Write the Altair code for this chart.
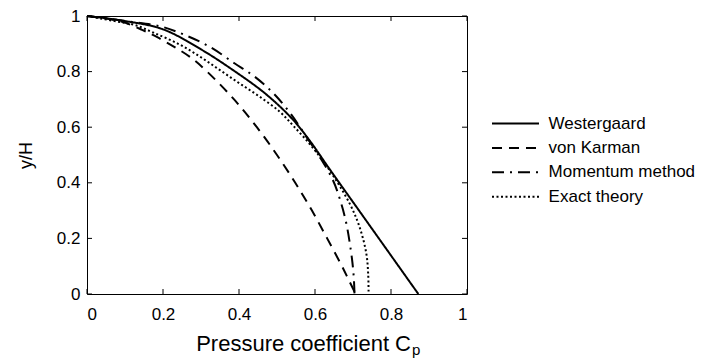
import altair as alt
import pandas as pd

series_names = ["Westergaard", "von Karman", "Momentum method", "Exact theory"]
dash_styles = [[1, 0], [10, 7], [12, 6, 2, 6], [2, 2.5]]

tick_values = [0, 0.2, 0.4, 0.6, 0.8, 1]

west_y = [1.0, 0.982, 0.952, 0.88, 0.80, 0.72, 0.63, 0.55, 0.45, 0.30, 0.15, 0.0]
west_cp = [0.0, 0.10, 0.20, 0.30, 0.39, 0.47, 0.54, 0.587, 0.638, 0.716, 0.794, 0.872]

karman_y = [1.0, 0.98, 0.95, 0.92, 0.85, 0.80, 0.70, 0.60, 0.50, 0.40, 0.30, 0.20, 0.10, 0.05, 0.0]
karman_cp = [0.0, 0.09, 0.145, 0.19, 0.274, 0.316, 0.387, 0.447, 0.50, 0.548, 0.592, 0.632, 0.671, 0.689, 0.707]

mom_y = [1.0, 0.98, 0.962, 0.932, 0.89, 0.83, 0.782, 0.72, 0.65, 0.566, 0.494, 0.41, 0.33, 0.25, 0.13, 0.06, 0.0]
mom_cp = [0.0, 0.11, 0.195, 0.257, 0.322, 0.388, 0.441, 0.492, 0.535, 0.577, 0.612, 0.647, 0.668, 0.683, 0.697, 0.702, 0.704]

exact_y = [1.0, 0.98, 0.968, 0.94, 0.90, 0.855, 0.806, 0.758, 0.71, 0.656, 0.602, 0.53, 0.446, 0.326, 0.242, 0.146, 0.07, 0.0]
exact_cp = [0.0, 0.08, 0.125, 0.175, 0.24, 0.296, 0.349, 0.401, 0.454, 0.507, 0.545, 0.592, 0.638, 0.691, 0.717, 0.735, 0.740, 0.741]

rows = []
for name, ys_, cps_ in [
    (series_names[0], west_y, west_cp),
    (series_names[1], karman_y, karman_cp),
    (series_names[2], mom_y, mom_cp),
    (series_names[3], exact_y, exact_cp),
]:
    for i, (yv, cv) in enumerate(zip(ys_, cps_)):
        rows.append({"series": name, "y": yv, "cp": cv, "i": i})
df = pd.DataFrame(rows)
tick_df = pd.DataFrame({"v": tick_values})

W, H = 380, 278
FONT = "Liberation Sans"
xscale = alt.Scale(domain=[0, 1], nice=False, zero=False)
yscale = alt.Scale(domain=[0, 1], nice=False, zero=False)

x_axis = alt.Axis(values=tick_values, format="~g", title=None, ticks=False,
                  domain=False, grid=False, labelPadding=12, labelFontSize=17)
y_axis = alt.Axis(values=tick_values, format="~g", title="y/H", ticks=False,
                  domain=False, grid=False, labelPadding=7, labelFontSize=17,
                  titleX=-61, titleY=139, titleFontSize=18,
                  titleFontWeight="normal", titleAlign="center",
                  titleBaseline="middle")

# legend symbol: a horizontal stroke 4x the nominal symbol width
sym_nominal = 11.75
lines = alt.Chart(df).mark_line(
    color="black", strokeWidth=2, interpolate="catmull-rom", strokeCap="butt"
).encode(
    x=alt.X("cp:Q", scale=xscale, axis=x_axis),
    y=alt.Y("y:Q", scale=yscale, axis=y_axis),
    strokeDash=alt.StrokeDash(
        "series:N", sort=series_names,
        scale=alt.Scale(domain=series_names, range=dash_styles),
        legend=alt.Legend(title=None, orient="none", legendX=420, legendY=99,
                          symbolType="M-4,0L4,0", symbolSize=sym_nominal ** 2,
                          symbolStrokeWidth=2, symbolStrokeColor="black",
                          labelFontSize=17, labelOffset=24.6,
                          labelFont=FONT, labelColor="black", padding=0, rowPadding=6.4)),
    order="i:Q",
)

tick_len = 5
bottom_ticks = alt.Chart(tick_df).mark_rule(color="black", strokeWidth=1).encode(
    x=alt.X("v:Q", scale=xscale, axis=x_axis),
    y=alt.value(H), y2=alt.value(H - tick_len))
top_ticks = alt.Chart(tick_df).mark_rule(color="black", strokeWidth=1).encode(
    x=alt.X("v:Q", scale=xscale, axis=x_axis),
    y=alt.value(0), y2=alt.value(tick_len))
left_ticks = alt.Chart(tick_df).mark_rule(color="black", strokeWidth=1).encode(
    y=alt.Y("v:Q", scale=yscale, axis=y_axis),
    x=alt.value(0), x2=alt.value(tick_len))
right_ticks = alt.Chart(tick_df).mark_rule(color="black", strokeWidth=1).encode(
    y=alt.Y("v:Q", scale=yscale, axis=y_axis),
    x=alt.value(W), x2=alt.value(W - tick_len))

title_main = alt.Chart(alt.Data(values=[{}])).mark_text(
    text="Pressure coefficient C", font=FONT, fontSize=22, color="black",
    align="right", baseline="alphabetic").encode(
    x=alt.value(324), y=alt.value(335))
title_sub = alt.Chart(alt.Data(values=[{}])).mark_text(
    text="p", font=FONT, fontSize=15, color="black",
    align="left", baseline="alphabetic").encode(
    x=alt.value(325), y=alt.value(339))

chart = alt.layer(
    lines, bottom_ticks, top_ticks, left_ticks, right_ticks, title_main, title_sub
).properties(
    width=W, height=H,
    padding={"left": 87, "top": 16, "right": 727 - 87 - W, "bottom": 358 - 16 - H},
    autosize=alt.AutoSizeParams(type="none"),
).configure_view(
    stroke="black", strokeWidth=1
).configure_axis(
    labelFont=FONT, titleFont=FONT, labelColor="black", titleColor="black"
)

chart.save("out.html", embed_options={"renderer": "svg", "actions": False})
